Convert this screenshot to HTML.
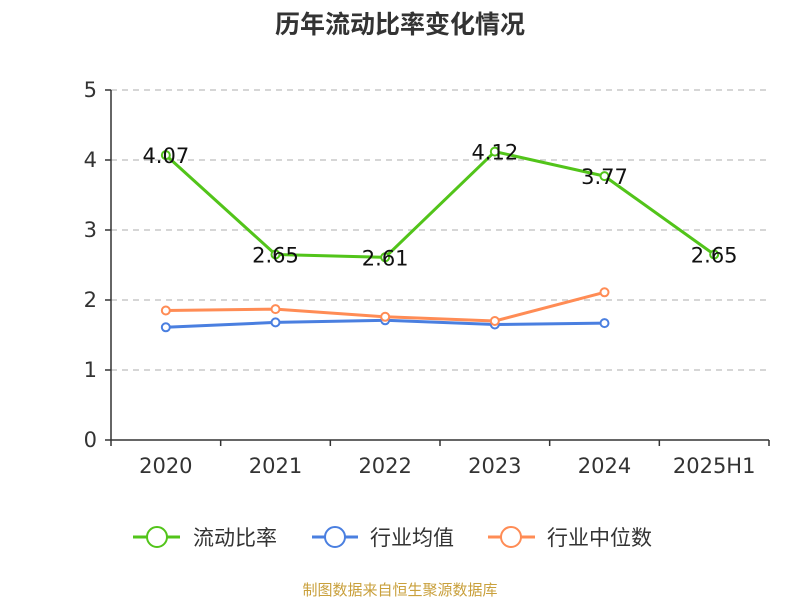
<!DOCTYPE html>
<html><head><meta charset="utf-8"><style>
body{margin:0;background:#fff}
svg{display:block;font-family:"DejaVu Sans","Noto Sans CJK SC",sans-serif}
</style></head><body>
<svg width="800" height="600">
<text x="400" y="33" text-anchor="middle" font-size="25" font-weight="bold" fill="#333" font-family="Noto Sans CJK SC, sans-serif">历年流动比率变化情况</text>
<g id="grid"></g><g id="axes"></g><g id="series"></g>
<g font-family="Noto Sans CJK SC, sans-serif">
<g><line x1="133" y1="537" x2="180" y2="537" stroke="#52c41a" stroke-width="3"/><circle cx="157" cy="537" r="10" fill="#fff" stroke="#52c41a" stroke-width="2"/><text x="193" y="545" font-size="21" fill="#333">流动比率</text></g>
<g><line x1="312" y1="537" x2="358" y2="537" stroke="#4a7fe0" stroke-width="3"/><circle cx="335" cy="537" r="10" fill="#fff" stroke="#4a7fe0" stroke-width="2"/><text x="370" y="545" font-size="21" fill="#333">行业均值</text></g>
<g><line x1="488" y1="537" x2="535" y2="537" stroke="#ff8c55" stroke-width="3"/><circle cx="511" cy="537" r="10" fill="#fff" stroke="#ff8c55" stroke-width="2"/><text x="547" y="545" font-size="21" fill="#333">行业中位数</text></g>
</g>
<text x="400" y="595" text-anchor="middle" font-size="15" fill="#c9a03c" font-family="Noto Sans CJK SC, sans-serif">制图数据来自恒生聚源数据库</text>
</svg>
<script>
const categories=["2020","2021","2022","2023","2024","2025H1"];
const ratio=[4.07,2.65,2.61,4.12,3.77,2.65];
const industryAvg=[1.61,1.68,1.71,1.65,1.67];
const industryMedian=[1.85,1.87,1.76,1.70,2.11];
const yTicks=[0,1,2,3,4,5];
const NS="http://www.w3.org/2000/svg";
const x0=111,x1=769,y0=440,y1=90,yMax=5;
const bw=(x1-x0)/categories.length;
const xs=i=>x0+bw*(i+0.5);
const ys=v=>y0-(v/yMax)*(y0-y1);
function mk(t,a,p){const e=document.createElementNS(NS,t);for(const k in a)e.setAttribute(k,a[k]);p.appendChild(e);return e;}
const grid=document.getElementById('grid'),axes=document.getElementById('axes'),ser=document.getElementById('series');
yTicks.forEach(v=>{
 if(v>0){const l=mk('line',{x1:x0,x2:x1,y1:ys(v),y2:ys(v),stroke:'#c8c8c8','stroke-width':1.5,'stroke-dasharray':'6,5'},grid);
 
 }
 mk('line',{x1:x0-6,x2:x0,y1:ys(v),y2:ys(v),stroke:'#333','stroke-width':1.5},axes);
 const t=mk('text',{x:x0-14,y:ys(v)+7,'text-anchor':'end','font-size':21,fill:'#333'},axes);t.textContent=v;
 
 
});
mk('line',{x1:x0,x2:x0,y1:y1,y2:y0,stroke:'#333','stroke-width':1.5},axes);
mk('line',{x1:x0,x2:x1,y1:y0,y2:y0,stroke:'#333','stroke-width':1.5},axes);
for(let i=0;i<=categories.length;i++)mk('line',{x1:x0+bw*i,x2:x0+bw*i,y1:y0,y2:y0+6,stroke:'#333','stroke-width':1.5},axes);
categories.forEach((c,i)=>{const t=mk('text',{x:xs(i),y:473,'text-anchor':'middle','font-size':21,fill:'#333'},axes);t.textContent=c;
 
 });
function line(d,col,name,labels){
 const g=mk('g',{},ser);
 
 
 mk('polyline',{points:d.map((v,i)=>xs(i)+','+ys(v)).join(' '),fill:'none',stroke:col,'stroke-width':3,'stroke-linejoin':'round'},g);
 d.forEach((v,i)=>{const c=mk('circle',{cx:xs(i),cy:ys(v),r:4,fill:'#fff',stroke:col,'stroke-width':2},g);
  
  
  if(labels){const t=mk('text',{x:xs(i),y:ys(v)+8,'text-anchor':'middle','font-size':21,fill:'#111'},g);t.textContent=v.toFixed(2);
   
   }
 });
}
line(industryAvg,'#4a7fe0','industry-avg-line',false);
line(industryMedian,'#ff8c55','industry-median-line',false);
line(ratio,'#52c41a','current-ratio-line',true);
</script>
</body></html>
